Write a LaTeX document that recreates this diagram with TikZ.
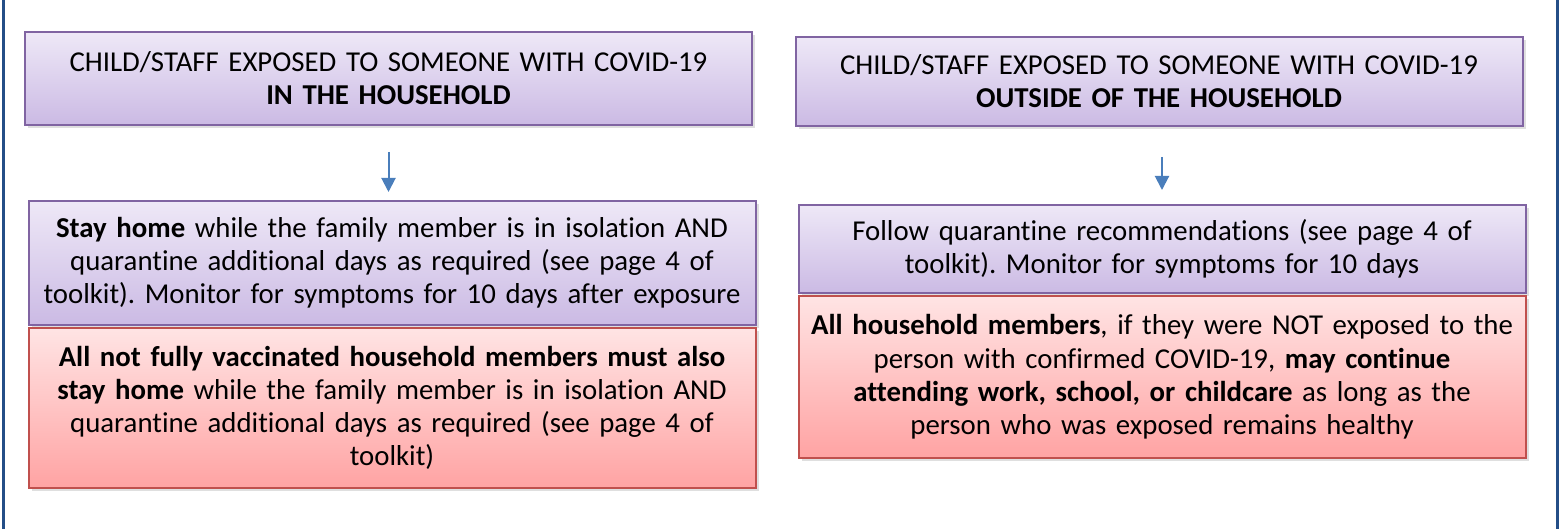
\documentclass[tikz,border=0pt]{standalone}
\usepackage{fontspec}
\setmainfont{Carlito}[Ligatures=NoCommon,WordSpace=0.82]
\usepackage{xcolor}
\usetikzlibrary{arrows.meta,positioning,shadows}

\definecolor{sidebar}{RGB}{36,78,135}
\definecolor{purpleline}{RGB}{128,100,162}
\definecolor{purpletop}{RGB}{238,232,247}
\definecolor{purplebot}{RGB}{203,186,228}
\definecolor{redline}{RGB}{192,80,77}
\definecolor{redtop}{RGB}{255,228,228}
\definecolor{redbot}{RGB}{255,163,163}
\definecolor{arrowblue}{RGB}{74,126,187}

\tikzset{
  flowbox/.style={draw,line width=1pt,align=center,inner sep=0pt,
    text width=360pt,minimum width=363.5pt,
    font=\fontsize{14.4}{16.6}\selectfont,
    drop shadow={opacity=0.25,shadow xshift=1.5pt,shadow yshift=-1.5pt}},
  purplebox/.style={flowbox,draw=purpleline,top color=purpletop,bottom color=purplebot},
  redbox/.style={flowbox,draw=redline,top color=redtop,bottom color=redbot},
  flowarrow/.style={draw=arrowblue,line width=1pt,-{Triangle[width=7pt,length=7pt]}}
}

\begin{document}
\frenchspacing
\begin{tikzpicture}[x=0.5pt,y=0.5pt]
    \useasboundingbox (0,0) rectangle (1559,-529);
    % side bars
    \fill[sidebar] (2,0) rectangle (5,-529);
    \fill[sidebar] (1556,0) rectangle (1559,-529);
    % in the household
    \node[purplebox,minimum height=46.5pt] (inhouse) at (388.5,-78.5)
        {CHILD/STAFF EXPOSED TO SOMEONE WITH COVID-19\\ \textbf{IN THE HOUSEHOLD}};
    \node[purplebox,minimum height=62pt,below=37pt of inhouse,xshift=1.75pt] (inhome)
        {\textbf{Stay home} while the family member is in isolation AND\\ quarantine additional days as required (see page 4 of\\ toolkit). Monitor for symptoms for 10 days after exposure};
    \node[redbox,minimum height=80pt,below=0.5pt of inhome] (inmembers)
        {\textbf{All not fully vaccinated household members must also}\\ \textbf{stay home} while the family member is in isolation AND\\ quarantine additional days as required (see page 4 of\\ toolkit)};
    % outside of the household
    \node[purplebox,minimum height=44.5pt] (outhouse) at (1159,-81.5)
        {CHILD/STAFF EXPOSED TO SOMEONE WITH COVID-19\\ \textbf{OUTSIDE OF THE HOUSEHOLD}};
    \node[purplebox,minimum height=44pt,below=38.5pt of outhouse,xshift=1.5pt] (outquar)
        {Follow quarantine recommendations (see page 4 of\\ toolkit). Monitor for symptoms for 10 days};
    \node[redbox,minimum height=81pt,below=0.5pt of outquar] (outmembers)
        {\textbf{All household members}, if they were NOT exposed to the\\ person with confirmed COVID-19, \textbf{may continue}\\ \textbf{attending work, school, or childcare} as long as the\\ person who was exposed remains healthy};
    \draw[flowarrow,shorten <=13pt,shorten >=4pt] (inhouse.south) -- (inhouse.south |- inhome.north);
    \draw[flowarrow,shorten <=15pt,shorten >=7pt] (outquar.north |- outhouse.south) -- (outquar.north);
\end{tikzpicture}
\end{document}
